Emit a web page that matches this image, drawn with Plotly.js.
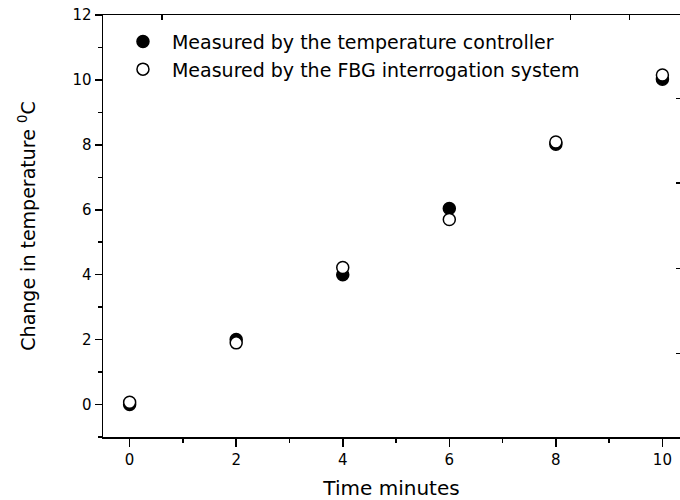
<!DOCTYPE html>
<html>
<head>
<meta charset="utf-8">
<script src="https://cdn.plot.ly/plotly-3.0.1.min.js"></script>
<style>html,body{margin:0;padding:0;background:#fff;}#chart{width:680px;height:500px;}</style>
</head>
<body>
<div id="chart"></div>
<script>
// Data
const timeMinutes = [0, 2, 4, 6, 8, 10];
const controllerTemp = [0.0, 2.0, 4.0, 6.04, 8.02, 10.02];
const fbgTemp = [0.07, 1.9, 4.22, 5.7, 8.09, 10.15];
const seriesNames = [
  'Measured by the temperature controller',
  'Measured by the FBG interrogation system'
];

const FONT = 'DejaVu Sans, Liberation Sans, Arial, sans-serif';

const traces = [
  {
    x: timeMinutes, y: controllerTemp, name: seriesNames[0],
    type: 'scatter', mode: 'markers',
    marker: {symbol: 'circle', size: 12, color: '#000', line: {color: '#000', width: 1.5}}
  },
  {
    x: timeMinutes, y: fbgTemp, name: seriesNames[1],
    type: 'scatter', mode: 'markers',
    marker: {symbol: 'circle', size: 12, color: '#fff', line: {color: '#000', width: 1.5}}
  },
  { x: [], y: [], xaxis: 'x2', yaxis: 'y2', showlegend: false, hoverinfo: 'skip', type: 'scatter' }
];

const layout = {
  width: 680, height: 500,
  margin: {l: 103, r: 0, t: 15, b: 63},
  paper_bgcolor: '#fff', plot_bgcolor: '#fff',
  font: {family: FONT, color: '#000', size: 15},
  showlegend: true,
  legend: {
    x: 0.019, y: 0.982, xanchor: 'left', yanchor: 'top',
    bgcolor: 'rgba(0,0,0,0)', borderwidth: 0,
    font: {family: FONT, size: 19, color: '#000'},
    itemwidth: 48, tracegroupgap: 0
  },
  xaxis: {
    range: [-0.5, 10.33], showgrid: false, zeroline: false,
    showline: true, linecolor: '#000', linewidth: 1.5,
    ticks: 'outside', ticklen: 8, tickwidth: 1.5, tickcolor: '#000',
    tick0: 0, dtick: 2,
    minor: {ticks: 'outside', ticklen: 4, tickwidth: 1.5, tickcolor: '#000', dtick: 1, tick0: 0},
    tickfont: {size: 15},
    title: {text: 'Time minutes', font: {size: 20}, standoff: 13}
  },
  yaxis: {
    range: [-1, 12], showgrid: false, zeroline: false,
    showline: true, linecolor: '#000', linewidth: 1.5,
    ticks: 'outside', ticklen: 7, tickwidth: 1.5, tickcolor: '#000',
    tick0: 0, dtick: 2,
    minor: {ticks: 'outside', ticklen: 4, tickwidth: 1.5, tickcolor: '#000', dtick: 1, tick0: 0},
    tickfont: {size: 15},
    title: {text: 'Change in temperature <sup>0</sup>C', font: {size: 19}, standoff: 32}
  },
  xaxis2: {
    overlaying: 'x', side: 'top', range: [-0.5, 10.33],
    showgrid: false, zeroline: false, showticklabels: false,
    showline: true, linecolor: '#000', linewidth: 1.5,
    ticks: 'inside', ticklen: 5, tickwidth: 1.5, tickcolor: '#000',
    tickmode: 'array', tickvals: [0.61, 8.27, 9.38]
  },
  yaxis2: {
    overlaying: 'y', side: 'right', range: [-1, 12],
    showgrid: false, zeroline: false, showticklabels: false, showline: false,
    ticks: 'inside', ticklen: 4, tickwidth: 1.5, tickcolor: '#000',
    tickmode: 'array', tickvals: [1.58, 4.19, 6.83, 9.43]
  }
};

Plotly.newPlot('chart', traces, layout, {displayModeBar: false, staticPlot: true});
</script>
</body>
</html>
